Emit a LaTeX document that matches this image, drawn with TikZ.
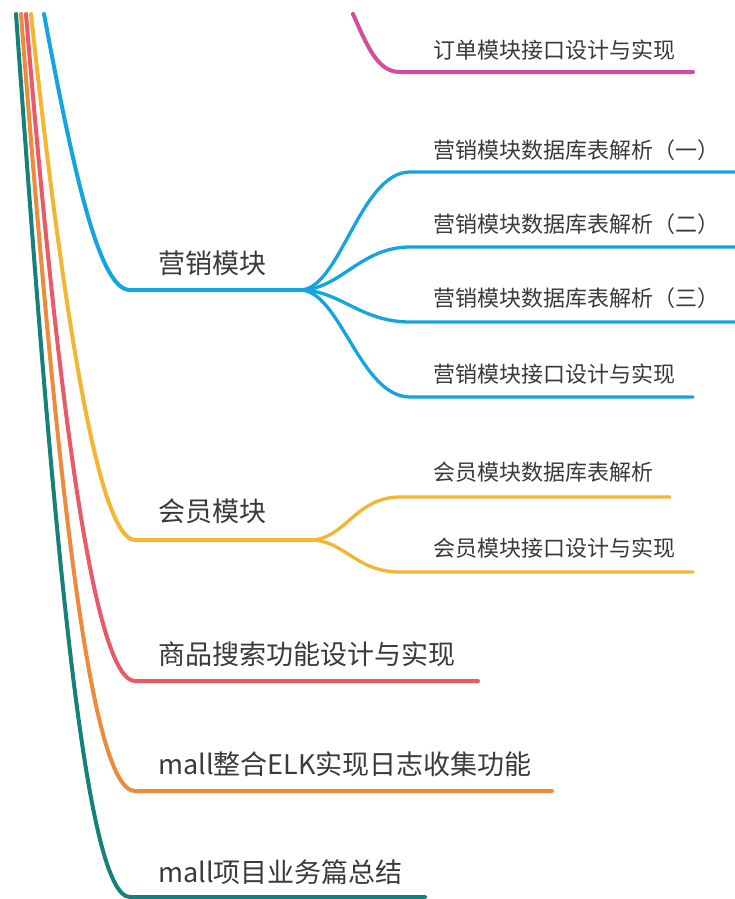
\documentclass[tikz,border=0pt]{standalone}
\usepackage{fontspec}
\setmainfont{Noto Sans CJK SC}
\definecolor{txt}{HTML}{3A3A3A}
\definecolor{ddpink}{HTML}{D04E9A}
\definecolor{yxblue}{HTML}{14A5E0}
\definecolor{hyyellow}{HTML}{F2B632}
\definecolor{ssred}{HTML}{E85A6A}
\definecolor{elkorange}{HTML}{EE8A3C}
\definecolor{zjteal}{HTML}{16807A}

\begin{document}
\begin{tikzpicture}[x=1pt,y=-1pt,
    topic/.style={anchor=west,inner sep=0pt,text=txt,font=\fontsize{27}{30}\selectfont},
    leaf/.style={anchor=west,inner sep=0pt,text=txt,font=\fontsize{22}{26}\selectfont},
    branch/.style={line width=4pt,line cap=round},
    twig/.style={line width=3.3pt,line cap=round}]

    \useasboundingbox[fill=white] (0,0) rectangle (734,899);

	\node[leaf] (dd4)   at (433,50) {订单模块接口设计与实现};
    \node[topic] (yx)   at (158,263) {营销模块};
    \node[leaf] (yx1)   at (433,150) {营销模块数据库表解析（一）};
    \node[leaf] (yx2)   at (433,224) {营销模块数据库表解析（二）};
    \node[leaf] (yx3)   at (433,298) {营销模块数据库表解析（三）};
    \node[leaf] (yx4)   at (433,374) {营销模块接口设计与实现};
    \node[topic] (hy)   at (158,511) {会员模块};
    \node[leaf] (hy1)   at (433,472) {会员模块数据库表解析};
    \node[leaf] (hy2)   at (433,548) {会员模块接口设计与实现};
    \node[topic] (ss)   at (158,654) {商品搜索功能设计与实现};
    \node[topic] (elk)  at (158,764) {mall整合ELK实现日志收集功能};
    \node[topic] (zj)   at (158,872) {mall项目业务篇总结};

    \coordinate (dd_top) at (353,14);
    \coordinate (dd_s) at (400,72);
    \coordinate (dd_e) at (693,72);
    \coordinate (yx_top) at (44,14);
    \coordinate (yx_s) at (130,290);
    \coordinate (yx_f) at (300,290);
    \coordinate (yx1_s) at (410,172);
    \coordinate (yx1_e) at (740,172);
    \coordinate (yx2_s) at (410,247);
    \coordinate (yx2_e) at (740,247);
    \coordinate (yx3_s) at (410,322);
    \coordinate (yx3_e) at (740,322);
    \coordinate (yx4_s) at (410,397);
    \coordinate (yx4_e) at (693,397);
    \coordinate (hy_top) at (31,14);
    \coordinate (hy_s) at (135,540);
    \coordinate (hy_f) at (310,540);
    \coordinate (hy1_s) at (400,497);
    \coordinate (hy1_e) at (670,497);
    \coordinate (hy2_s) at (400,572);
    \coordinate (hy2_e) at (693,572);
    \coordinate (ss_top) at (26,14);
    \coordinate (ss_s) at (135,681);
    \coordinate (ss_e) at (478,681);
    \coordinate (elk_top) at (21,14);
    \coordinate (elk_s) at (135,791);
    \coordinate (elk_e) at (552,791);
    \coordinate (zj_top) at (16,14);
    \coordinate (zj_s) at (130,897);
    \coordinate (zj_e) at (425,897);

    \draw[branch, zjteal] (zj_top) .. controls (54,544) and (85,897) .. (zj_s) -- (zj_e);
    \draw[branch, elkorange] (elk_top) .. controls (57,480) and (90,791) .. (elk_s) -- (elk_e);
    \draw[branch, ssred] (ss_top) .. controls (59,414) and (95,681) .. (ss_s) -- (ss_e);
    \draw[branch, hyyellow] (hy_top) .. controls (65,330) and (100,540) .. (hy_s) -- (hy_f);
    \draw[branch, yxblue] (yx_top) .. controls (75,180) and (100,290) .. (yx_s) -- (yx_f);
    \draw[branch, ddpink] (dd_top) .. controls (368,48) and (378,72) .. (dd_s) -- (dd_e);

    \draw[twig, yxblue] (yx_f) .. controls +(40,0) and +(-50,0) .. (yx1_s) -- (yx1_e);
    \draw[twig, yxblue] (yx_f) .. controls +(40,0) and +(-50,0) .. (yx2_s) -- (yx2_e);
    \draw[twig, yxblue] (yx_f) .. controls +(40,0) and +(-50,0) .. (yx3_s) -- (yx3_e);
    \draw[twig, yxblue] (yx_f) .. controls +(40,0) and +(-50,0) .. (yx4_s) -- (yx4_e);
    \draw[twig, hyyellow] (hy_f) .. controls +(35,0) and +(-45,0) .. (hy1_s) -- (hy1_e);
    \draw[twig, hyyellow] (hy_f) .. controls +(35,0) and +(-45,0) .. (hy2_s) -- (hy2_e);

\end{tikzpicture}
\end{document}
